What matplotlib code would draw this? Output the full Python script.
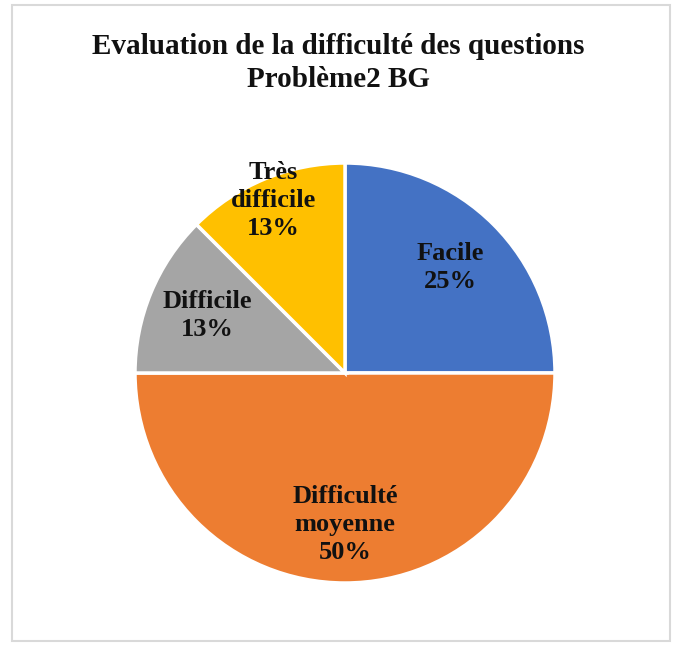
import matplotlib
matplotlib.use("Agg")
import matplotlib.pyplot as plt
import numpy as np
from matplotlib.patches import Rectangle

title = "Evaluation de la difficulté des questions\nProblème2 BG"
categories = ["Facile", "Difficulté\nmoyenne", "Difficile", "Très\ndifficile"]
values = [25, 50, 12.5, 12.5]
colors = ["#4472C4", "#ED7D31", "#A5A5A5", "#FFC000"]
label_r = [0.71, 0.72, 0.71, 0.89]

W, H = 682, 646
fig = plt.figure(figsize=(W / 100, H / 100), dpi=100)
ax = fig.add_axes([0, 0, 1, 1])

cx, cy, R = 345, H - 373, 210
wedges, _ = ax.pie(values, colors=colors, startangle=90, counterclock=False,
                   center=(cx, cy), radius=R, frame=True,
                   wedgeprops=dict(edgecolor="white", linewidth=2.5))
ax.set_xlim(0, W)
ax.set_ylim(0, H)
ax.set_aspect("equal")
ax.axis("off")

# chart border
ax.add_patch(Rectangle((12, 5), 658, 636, fill=False, edgecolor="#D9D9D9", linewidth=1.5))

font = dict(family="Liberation Serif", fontweight="bold", color="#111111")
for w, cat, v, rf in zip(wedges, categories, values, label_r):
    ang = np.deg2rad((w.theta1 + w.theta2) / 2)
    x = cx + rf * R * np.cos(ang)
    y = cy + rf * R * np.sin(ang)
    ax.text(x, y, f"{cat}\n{int(v + 0.5)}%", ha="center", va="center",
            fontsize=19, linespacing=1.28, **font)

ax.text(W / 2 - 3, H - 63, title, ha="center", va="center", fontsize=21,
        linespacing=1.24, **font)

fig.savefig("out.png", dpi=100)
